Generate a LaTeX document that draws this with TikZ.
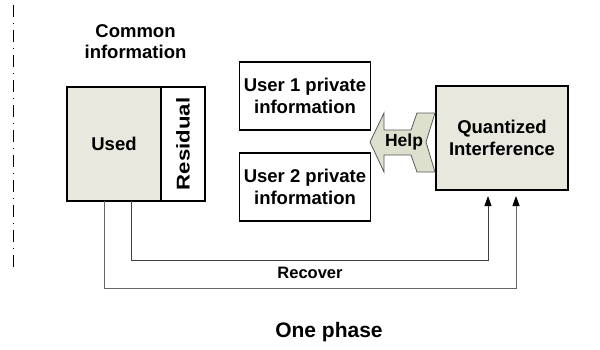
\documentclass[tikz,border=0pt]{standalone}
\usepackage{fontspec}
\setmainfont{Liberation Sans}
\usetikzlibrary{arrows.meta, positioning}
\definecolor{usedfill}{RGB}{232,232,222}
\definecolor{helpfill}{RGB}{220,224,204}
\tikzset{
    infobox/.style={rectangle,draw,line width=1.6pt,align=center,inner sep=0pt,
        font=\bfseries\fontsize{18.5}{22}\selectfont},
    greybox/.style={infobox,fill=usedfill},
    textnode/.style={align=center,font=\bfseries\fontsize{18.5}{21}\selectfont},
    feed/.style={-{Triangle[length=10pt,width=7pt,color=black]},line width=0.9pt,black!75},
    phaseline/.style={line width=1.5pt,dash pattern=on 12pt off 6pt on 1pt off 6pt},
    helparrow/.style={draw=black!65,line width=0.8pt,fill=helpfill}}

\begin{document}
\begin{tikzpicture}[x=1pt,y=-1pt]
\useasboundingbox (0,0) rectangle (600,349);
% phase divider
\draw[phaseline] (13.5,5) -- (13.5,272);
% common information
\node[textnode] (common) at (135.5,42) {Common\\information};
\node[greybox] (used)  [minimum width=94pt,minimum height=114pt] at (114,144) {Used};
\node[infobox] (resid) [minimum width=44pt,minimum height=114pt] at (183,144) {};
\node[font=\bfseries\fontsize{18.5}{22}\selectfont,rotate=90] (residtext) at (resid.center) {\scalebox{1.2}[1]{Residual}};
% private information
\node[infobox] (user1) [minimum width=131pt,minimum height=68pt] at (305,96)  {User 1 private\\information};
\node[infobox] (user2) [minimum width=131pt,minimum height=68pt] at (305,187) {User 2 private\\information};
% quantized interference
\node[greybox] (quant) [minimum width=132pt,minimum height=104pt] at (502,138) {Quantized\\Interference};
\draw[helparrow] (370,142) -- (384,113) -- (384,130) -- (411,130) -- (417,113) -- (435,113)
    -- (426,142) -- (435,172) -- (417,172) -- (411,155) -- (384,155) -- (384,172) -- cycle;
\node[font=\bfseries\fontsize{17.5}{20}\selectfont] (help) at (404,142) {Help};
% recover paths
\coordinate (outA)  at (104,201);
\coordinate (outB)  at (131,201);
\coordinate (turnA) at (104,288);
\coordinate (turnB) at (131,260);
\coordinate (inA)   at (516,196);
\coordinate (inB)   at (488,196);
\draw[feed] (outB) -- (turnB) -| (inB);
\draw[feed,black!60] (outA) -- (turnA) -| (inA);
\node[font=\bfseries\fontsize{16.5}{20}\selectfont] (recover) at (310,273) {Recover};
\node[font=\bfseries\fontsize{21}{24}\selectfont] (phase) at (329,332) {One phase};
\end{tikzpicture}
\end{document}
